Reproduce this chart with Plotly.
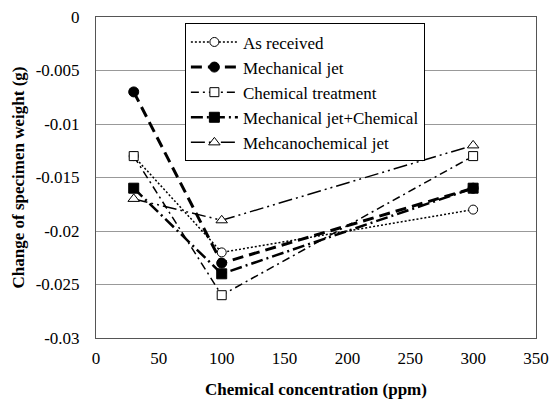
import plotly.graph_objects as go

x_vals = [30, 100, 300]
as_received = [-0.013, -0.022, -0.018]
mech_jet = [-0.007, -0.023, -0.016]
chem_treat = [-0.013, -0.026, -0.013]
mech_chem = [-0.016, -0.024, -0.016]
mechanochem = [-0.017, -0.019, -0.012]

y_ticks = [0, -0.005, -0.01, -0.015, -0.02, -0.025, -0.03]
y_tick_text = ["0", "-0.005", "-0.01", "-0.015", "-0.02", "-0.025", "-0.03"]
x_ticks = [0, 50, 100, 150, 200, 250, 300, 350]

series = [
    ("As received", as_received, dict(width=1.5, dash="2px,2px"),
     dict(symbol="circle", size=9, color="white", line=dict(color="black", width=1))),
    ("Mechanical jet", mech_jet, dict(width=3, dash="11px,6px"),
     dict(symbol="circle", size=10, color="black", line=dict(color="black", width=1))),
    ("Chemical treatment", chem_treat, dict(width=1.5, dash="8px,4px,2px,4px"),
     dict(symbol="square", size=9, color="white", line=dict(color="black", width=1))),
    ("Mechanical jet+Chemical", mech_chem, dict(width=2.5, dash="12px,4px,2px,4px"),
     dict(symbol="square", size=10, color="black", line=dict(color="black", width=1))),
    ("Mehcanochemical jet", mechanochem, dict(width=1.5, dash="14px,4px,2px,4px,2px,4px"),
     dict(symbol="triangle-up", size=10, color="white", line=dict(color="black", width=1))),
]

fig = go.Figure()
for name, ys, ln, mk in series:
    fig.add_trace(go.Scatter(x=x_vals, y=ys, name=name, mode="lines+markers",
                             line=dict(color="black", **ln), marker=mk))

font = "Liberation Serif"
fs = 17
fig.update_layout(
    width=551, height=400,
    margin=dict(l=96, r=15, t=17, b=62),
    paper_bgcolor="white", plot_bgcolor="white",
    font=dict(family=font, size=fs, color="black"),
    showlegend=True,
    legend=dict(x=0.202, y=0.98, xanchor="left", yanchor="top",
                bordercolor="black", borderwidth=1, bgcolor="white",
                font=dict(family=font, size=fs), tracegroupgap=0, itemwidth=47),
    xaxis=dict(range=[0, 350], tickvals=x_ticks, showgrid=False, zeroline=False,
               showline=True, linecolor="#555", mirror=True, ticks="",
               automargin=False, ticklabelstandoff=5,
               tickfont=dict(family=font, size=fs),
               title=dict(text="<b>Chemical concentration (ppm)</b>", font=dict(family=font, size=fs), standoff=15)),
    yaxis=dict(range=[-0.03, 0], tickvals=y_ticks, ticktext=y_tick_text,
               showgrid=True, gridcolor="#999", gridwidth=1, zeroline=False,
               showline=True, linecolor="#555", mirror=True, ticks="",
               automargin=False, ticklabelstandoff=12,
               tickfont=dict(family=font, size=fs),
               title=dict(text="<b>Change of specimen weight (g)</b>", font=dict(family=font, size=fs), standoff=6)),
)
fig.write_html("out.html")
